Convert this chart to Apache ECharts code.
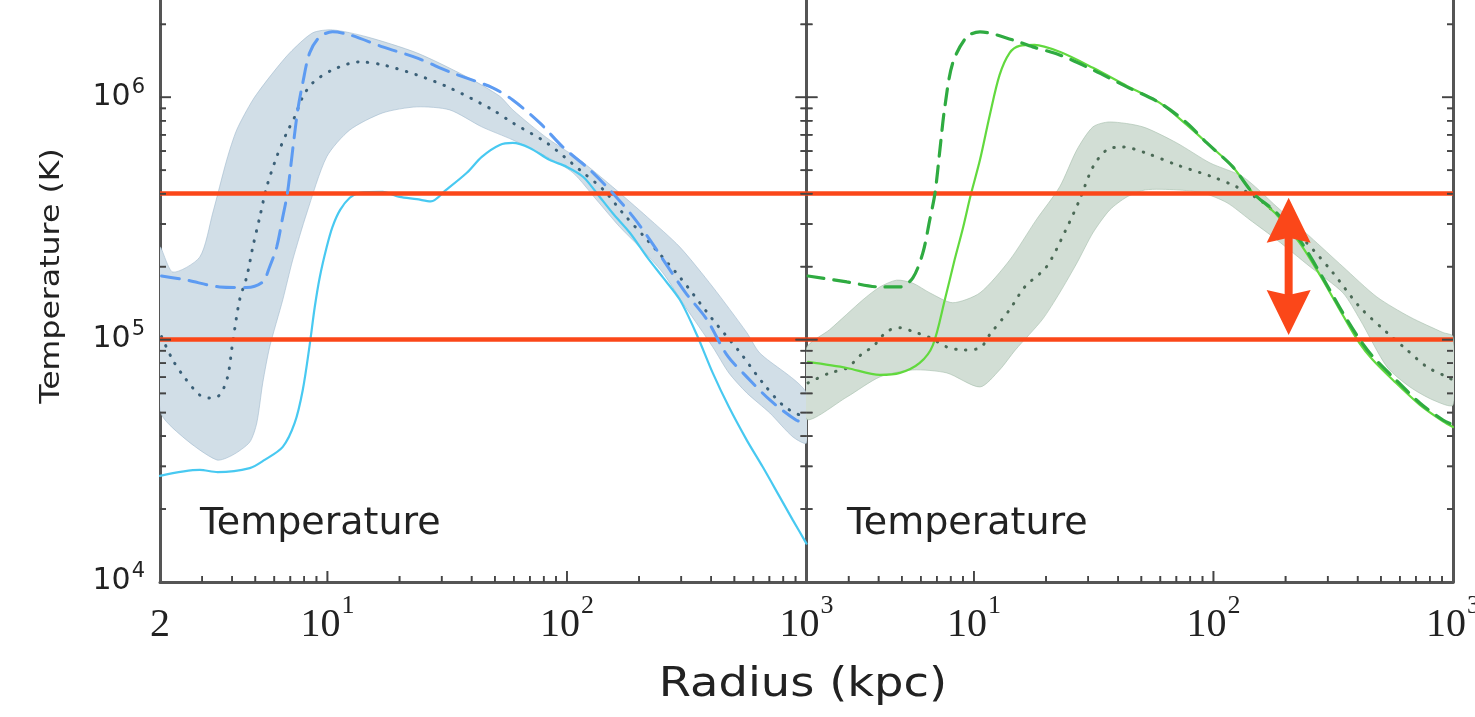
<!DOCTYPE html>
<html>
<head>
<meta charset="utf-8">
<title>Temperature profiles</title>
<script src="https://cdn.jsdelivr.net/npm/echarts@6/dist/echarts.min.js"></script>
<style>
  html, body { margin: 0; padding: 0; background: #ffffff; }
  #chart { width: 1475px; height: 717px; }
</style>
</head>
<body>
<div id="chart"></div>
<script>
// ---- axis ranges (radius in kpc, temperature in K) ----
const rMin = 2, rMax = 1000;
const tMin = 1e4, tMax = 2.52e6;

// ---- tick positions ----
const xMajorTicks = [10, 100];
const xMinorTicks = [3, 4, 5, 6, 7, 8, 9, 20, 30, 40, 50, 60, 70, 80, 90, 200, 300, 400, 500, 600, 700, 800, 900];
const yMajorTicks = [1e5, 1e6];
const yMinorTicks = [2e4, 3e4, 4e4, 5e4, 6e4, 7e4, 8e4, 9e4, 2e5, 3e5, 4e5, 5e5, 6e5, 7e5, 8e5, 9e5, 2e6];

// ---- reference temperatures (horizontal guide lines) ----
const guideTemps = [4e5, 1e5];
// double arrow between the guides: [radius, lower T, upper T]
const arrowSpec = [206, 1.045e5, 3.85e5];

// ---- left panel: [radius, temperature] ----
const leftSolid = [[2.0, 2.74e4], [2.93, 2.90e4], [3.48, 2.84e4], [4.74, 2.95e4], [5.47, 3.19e4], [6.51, 3.61e4],
  [7.30, 4.53e4], [7.89, 6.2e4], [8.43, 9.5e4], [8.85, 1.36e5], [9.29, 1.81e5], [9.93, 2.41e5], [10.5, 2.92e5],
  [11.3, 3.43e5], [12.4, 3.85e5], [13.6, 4.03e5], [17.0, 4.07e5], [20.0, 3.88e5], [23.6, 3.80e5], [27.0, 3.72e5],
  [31.3, 4.15e5], [38.2, 4.88e5], [44.1, 5.68e5], [52.4, 6.36e5], [59.4, 6.48e5], [69.9, 6.18e5], [84.5, 5.52e5],
  [100, 5.16e5], [117, 4.69e5], [133, 4.03e5], [155, 3.33e5], [183, 2.76e5], [216, 2.19e5], [251, 1.81e5],
  [296, 1.46e5], [348, 1.05e5], [406, 7.29e4], [474, 5.28e4], [563, 3.85e4], [657, 2.98e4], [774, 2.24e4],
  [877, 1.80e4], [1000, 1.44e4]];
const leftDashed = [[2.03, 1.83e5], [2.59, 1.76e5], [3.55, 1.65e5], [4.60, 1.64e5], [5.37, 1.73e5], [5.74, 2.0e5],
  [6.14, 2.41e5], [6.51, 3.21e5], [6.81, 4.03e5], [7.16, 6.07e5], [7.52, 8.87e5], [7.89, 1.147e6], [8.43, 1.525e6],
  [9.29, 1.776e6], [10.5, 1.862e6], [12.4, 1.81e6], [17.0, 1.614e6], [23.6, 1.454e6], [32.4, 1.273e6],
  [49.0, 1.094e6], [59.4, 9.75e5], [77, 7.84e5], [96, 6.24e5], [124.5, 5.02e5], [155, 4.03e5], [189, 3.21e5],
  [222, 2.58e5], [269, 1.94e5], [313, 1.56e5], [384, 1.21e5], [465, 8.65e4], [563, 7.02e4], [703, 5.64e4],
  [904, 4.66e4], [1000, 4.53e4]];
const leftMedian = [[2.03, 1.03e5], [2.26, 8.25e4], [2.54, 6.95e4], [2.93, 5.91e4], [3.23, 5.74e4], [3.55, 5.91e4],
  [3.83, 7.02e4], [4.02, 9.69e4], [4.30, 1.46e5], [4.60, 1.81e5], [4.88, 2.41e5], [5.22, 3.21e5], [5.58, 4.27e5],
  [6.14, 5.68e5], [6.76, 7.13e5], [7.30, 8.30e5], [7.89, 1.004e6], [8.68, 1.147e6], [10.5, 1.297e6], [13.6, 1.40e6],
  [17.0, 1.361e6], [23.6, 1.237e6], [32.4, 1.094e6], [49, 8.87e5], [59.4, 7.84e5], [82.4, 6.48e5], [113, 5.02e5],
  [142, 4.15e5], [171, 3.33e5], [216, 2.58e5], [296, 1.81e5], [406, 1.21e5], [530, 8.81e4], [657, 6.63e4],
  [812, 5.28e4], [1000, 4.75e4]];
const leftBandHigh = [[2.0, 2.4e5], [2.26, 1.90e5], [2.93, 2.19e5], [3.32, 3.33e5], [3.80, 5.52e5], [4.18, 7.33e5],
  [4.88, 9.75e5], [5.74, 1.214e6], [6.96, 1.525e6], [8.68, 1.844e6], [10.5, 1.897e6], [14.6, 1.776e6],
  [23.6, 1.525e6], [38.2, 1.214e6], [52.4, 1.01e6], [59.4, 8.87e5], [82.4, 6.80e5], [113, 5.52e5], [155, 4.27e5],
  [216, 3.21e5], [296, 2.41e5], [406, 1.65e5], [563, 1.07e5], [638, 8.81e4], [1000, 6.03e4]];
const leftBandLow = [[2.0, 5.1e4], [2.49, 3.97e4], [3.45, 3.19e4], [4.02, 3.34e4], [4.74, 3.78e4], [5.07, 4.53e4],
  [5.37, 6.63e4], [5.74, 9.33e4], [6.51, 1.46e5], [7.16, 2.13e5], [8.20, 3.33e5], [9.93, 5.68e5], [12.4, 7.33e5],
  [17.0, 8.62e5], [23.6, 9.13e5], [32.4, 8.87e5], [44.1, 7.55e5], [59.4, 6.67e5], [82.4, 5.68e5], [106, 4.88e5],
  [133, 3.77e5], [166, 2.92e5], [201, 2.41e5], [251, 1.89e5], [313, 1.36e5], [406, 9.33e4], [474, 7.29e4],
  [563, 6.03e4], [703, 4.98e4], [877, 3.97e4], [1000, 3.75e4]];

// ---- right panel: [radius, temperature] ----
const rightSolid = [[2.03, 8.09e4], [2.95, 7.64e4], [4.05, 7.15e4], [4.91, 7.29e4], [5.94, 8.02e4], [6.74, 9.5e4],
  [7.56, 1.46e5], [8.30, 2.13e5], [9.0, 2.89e5], [9.7, 3.96e5], [10.6, 5.52e5], [11.65, 8.46e5], [12.8, 1.237e6],
  [14.1, 1.525e6], [15.5, 1.63e6], [17.9, 1.646e6], [22.8, 1.54e6], [31.4, 1.323e6], [43.5, 1.114e6],
  [59.7, 9.48e5], [77.4, 7.69e5], [93.9, 6.48e5], [120.5, 5.16e5], [146, 4.03e5], [184, 3.27e5], [229, 2.51e5],
  [278, 1.85e5], [347, 1.26e5], [409, 9.6e4], [460, 8.3e4], [561, 6.82e4], [727, 5.38e4], [908, 4.6e4],
  [1000, 4.36e4]];
const rightDashed = [[2.03, 1.83e5], [2.95, 1.73e5], [4.05, 1.65e5], [4.91, 1.65e5], [5.56, 1.80e5], [6.12, 2.28e5],
  [6.54, 3.12e5], [6.88, 4.03e5], [7.21, 6.07e5], [7.56, 9.13e5], [8.16, 1.387e6], [9.34, 1.776e6], [10.6, 1.862e6],
  [14.5, 1.726e6], [17.6, 1.614e6], [22.8, 1.496e6], [31.4, 1.297e6], [43.5, 1.104e6], [59.7, 9.48e5],
  [77.4, 7.84e5], [93.9, 6.48e5], [120.5, 5.16e5], [146, 4.03e5], [184, 3.33e5], [229, 2.58e5], [278, 1.89e5],
  [347, 1.29e5], [409, 9.97e4], [460, 8.57e4], [561, 7.02e4], [727, 5.48e4], [908, 4.66e4], [1000, 4.45e4]];
const rightMedian = [[2.03, 6.63e4], [2.50, 7.29e4], [2.95, 7.64e4], [3.44, 8.81e4], [3.78, 9.33e4], [4.33, 1.08e5],
  [4.91, 1.12e5], [5.56, 1.08e5], [6.54, 1.02e5], [7.70, 9.33e4], [9.0, 9.07e4], [10.6, 9.24e4], [11.65, 1.05e5],
  [14.1, 1.33e5], [16.3, 1.65e5], [20.1, 2.0e5], [24.2, 2.84e5], [27.6, 3.77e5], [31.4, 5.16e5], [35.9, 6.07e5],
  [41.9, 6.24e5], [52.0, 5.90e5], [70.3, 5.26e5], [99.4, 4.69e5], [125, 4.27e5], [156, 3.77e5], [189, 3.21e5],
  [245, 2.51e5], [315, 1.89e5], [409, 1.36e5], [530, 1.07e5], [642, 9.07e4], [778, 7.72e4], [943, 7.02e4],
  [1000, 6.82e4]];
const rightBandHigh = [[2.0, 9.2e4], [2.50, 1.10e5], [3.44, 1.46e5], [4.05, 1.65e5], [4.76, 1.76e5], [5.56, 1.71e5],
  [6.54, 1.56e5], [8.16, 1.42e5], [10.6, 1.56e5], [14.1, 2.13e5], [18.2, 3.12e5], [22.8, 4.27e5], [26.9, 6.07e5],
  [31.4, 7.55e5], [36.9, 7.91e5], [50.7, 7.55e5], [70.3, 6.48e5], [96.7, 5.36e5], [133, 4.69e5], [184, 3.53e5],
  [253, 2.66e5], [347, 2.0e5], [481, 1.50e5], [661, 1.24e5], [908, 1.07e5], [1000, 1.03e5]];
const rightBandLow = [[2.0, 4.7e4], [2.95, 5.80e4], [4.05, 7.02e4], [5.56, 7.50e4], [7.70, 7.29e4], [10.6, 6.38e4],
  [12.8, 7.50e4], [14.9, 9.07e4], [19.3, 1.21e5], [22.8, 1.56e5], [26.9, 2.07e5], [31.4, 2.76e5], [36.9, 3.43e5],
  [43.5, 3.88e5], [52.0, 4.15e5], [70.3, 4.15e5], [90.3, 4.03e5], [114, 3.67e5], [142, 3.12e5], [184, 2.58e5],
  [253, 2.0e5], [347, 1.56e5], [409, 1.21e5], [530, 7.72e4], [661, 6.38e4], [824, 5.64e4], [1000, 5.38e4]];

// ---- colours ----
const RED = '#fb4719';
const AXIS = '#555555';
const TEXT = '#222222';

const chart = echarts.init(document.getElementById('chart'), null, { renderer: 'canvas' });

function isPow10(v) {
  const e = Math.log10(v);
  return Math.abs(e - Math.round(e)) < 1e-6;
}

// base digits and superscript share the same padded box height, so the
// superscript sits raised regardless of token alignment
const xRich = {
  b: { fontFamily: 'Liberation Serif', fontSize: 40, color: TEXT, lineHeight: 40, padding: [12, 0, 0, 0] },
  s: { fontFamily: 'Liberation Serif', fontSize: 26, color: TEXT, lineHeight: 26, padding: [0, 0, 26, 1] }
};
const yRich = {
  b: { fontFamily: 'DejaVu Sans', fontSize: 30, color: TEXT, lineHeight: 30, padding: [5, 0, 6, 0] },
  s: { fontFamily: 'DejaVu Sans', fontSize: 21, color: TEXT, lineHeight: 21, padding: [0, 0, 20, 1] }
};

function xAxisDef(gridIndex, showMin) {
  return {
    gridIndex, type: 'log', logBase: 10, min: rMin, max: rMax,
    axisLine: { show: true, onZero: false, lineStyle: { color: AXIS, width: 3 } },
    axisTick: { show: false },
    splitLine: { show: false },
    minorTick: { show: false },
    axisLabel: {
      margin: 17, showMinLabel: showMin, showMaxLabel: true, hideOverlap: false,
      formatter: v => isPow10(v) ? '{b|10}{s|' + Math.round(Math.log10(v)) + '}' : (showMin ? '{b|' + Math.round(v) + '}' : ''),
      rich: xRich
    }
  };
}
function yAxisDef(gridIndex, position, labels) {
  return {
    gridIndex, type: 'log', logBase: 10, min: tMin, max: tMax, position,
    axisLine: { show: true, onZero: false, lineStyle: { color: AXIS, width: 3 } },
    axisTick: { show: false },
    splitLine: { show: false },
    minorTick: { show: false },
    axisLabel: labels ? {
      margin: 15, showMaxLabel: false, hideOverlap: false,
      formatter: v => isPow10(v) ? '{b|10}{s|' + Math.round(Math.log10(v)) + '}' : '',
      rich: yRich
    } : { show: false }
  };
}

// ticks: [x, y, direction(0 up, 1 right, 2 left), length]
function tickData() {
  const d = [];
  xMajorTicks.forEach(v => d.push([v, tMin, 0, 11]));
  xMinorTicks.forEach(v => d.push([v, tMin, 0, 6]));
  yMajorTicks.forEach(v => { d.push([rMin, v, 1, 11]); d.push([rMax, v, 2, 11]); });
  yMinorTicks.forEach(v => { d.push([rMin, v, 1, 6]); d.push([rMax, v, 2, 6]); });
  return d;
}
function tickSeries(xi, yi) {
  return {
    type: 'custom', xAxisIndex: xi, yAxisIndex: yi, clip: false, silent: true, z: 6,
    dimensions: ['x', 'y', 'dir', 'len'], encode: { x: 0, y: 1 },
    data: tickData(),
    renderItem: (params, api) => {
      const p = api.coord([api.value(0), api.value(1)]);
      const dir = api.value(2), len = api.value(3);
      let x2 = p[0], y2 = p[1];
      if (dir === 0) y2 -= len; else if (dir === 1) x2 += len; else x2 -= len;
      return { type: 'line', shape: { x1: p[0], y1: p[1], x2, y2 }, style: { stroke: '#444', lineWidth: 1.6 } };
    }
  };
}

function bandSeries(xi, yi, hi, lo, fill, edge) {
  return {
    type: 'custom', xAxisIndex: xi, yAxisIndex: yi, clip: true, silent: true, z: 1,
    data: [hi[0]],
    renderItem: (params, api) => {
      const pts = hi.map(p => api.coord(p)).concat(lo.slice().reverse().map(p => api.coord(p)));
      return { type: 'polygon', shape: { points: pts, smooth: 0.25 }, style: { fill, stroke: edge, lineWidth: 1 } };
    }
  };
}

function lineSeries(xi, yi, data, color, width, dash, z) {
  return {
    type: 'line', xAxisIndex: xi, yAxisIndex: yi, data, showSymbol: false, symbol: 'none',
    smooth: 0.3, silent: true, z,
    lineStyle: { color, width, type: dash || 'solid', cap: 'round' }
  };
}

function guideSeries(xi, yi) {
  return {
    type: 'line', xAxisIndex: xi, yAxisIndex: yi, data: [], silent: true, z: 8,
    markLine: {
      silent: true, symbol: 'none', label: { show: false }, animation: false,
      lineStyle: { color: RED, width: 4.5, type: 'solid' },
      emphasis: { disabled: true },
      data: guideTemps.map(t => ({ yAxis: t }))
    }
  };
}

const arrowSeries = {
  type: 'custom', xAxisIndex: 1, yAxisIndex: 2, clip: false, silent: true, z: 9,
  dimensions: ['r', 'lo', 'hi'], encode: { x: 0, y: [1, 2] },
  data: [arrowSpec],
  renderItem: (params, api) => {
    const top = api.coord([api.value(0), api.value(2)]);
    const bot = api.coord([api.value(0), api.value(1)]);
    const x = top[0], headL = 45, headW = 22, notch = 5;
    return {
      type: 'group',
      children: [
        { type: 'line', shape: { x1: x, y1: top[1] + headL - notch - 2, x2: x, y2: bot[1] - headL + notch + 2 },
          style: { stroke: RED, lineWidth: 8 } },
        { type: 'polygon', shape: { points: [[x, top[1]], [x + headW, top[1] + headL], [x, top[1] + headL - notch], [x - headW, top[1] + headL]] },
          style: { fill: RED } },
        { type: 'polygon', shape: { points: [[x, bot[1]], [x + headW, bot[1] - headL], [x, bot[1] - headL + notch], [x - headW, bot[1] - headL]] },
          style: { fill: RED } }
      ]
    };
  }
};

const DOTS = [0.5, 9.5];

const option = {
  animation: false,
  backgroundColor: '#ffffff',
  grid: [
    { left: 160, top: 0, width: 646.5, height: 582, containLabel: false, outerBoundsMode: 'none' },
    { left: 806.5, top: 0, width: 646.5, height: 582, containLabel: false, outerBoundsMode: 'none' }
  ],
  xAxis: [xAxisDef(0, true), xAxisDef(1, false)],
  yAxis: [yAxisDef(0, 'left', true), yAxisDef(0, 'right', false), yAxisDef(1, 'left', false), yAxisDef(1, 'right', false)],
  series: [
    bandSeries(0, 0, leftBandHigh, leftBandLow, 'rgb(209,222,231)', 'rgba(160,185,205,0.6)'),
    lineSeries(0, 0, leftMedian, '#3b6078', 3, DOTS, 3),
    lineSeries(0, 0, leftSolid, '#48c9f1', 2.2, null, 4),
    lineSeries(0, 0, leftDashed, '#5d9bf2', 3, [18, 10], 5),
    tickSeries(0, 0),
    tickSeries(0, 1),
    guideSeries(0, 0),

    bandSeries(1, 2, rightBandHigh, rightBandLow, 'rgb(210,222,213)', 'rgba(165,190,172,0.6)'),
    lineSeries(1, 2, rightMedian, '#4b6a56', 3, DOTS, 3),
    lineSeries(1, 2, rightSolid, '#62d93e', 2.2, null, 4),
    lineSeries(1, 2, rightDashed, '#2fab41', 3.2, [16, 10], 5),
    tickSeries(1, 2),
    tickSeries(1, 3),
    guideSeries(1, 2),
    arrowSeries
  ],
  graphic: [
    { type: 'text', x: 200, y: 524, z: 20, style: { text: 'Temperature', font: '38px "DejaVu Sans"', fill: TEXT, verticalAlign: 'middle' } },
    { type: 'text', x: 847, y: 524, z: 20, style: { text: 'Temperature', font: '38px "DejaVu Sans"', fill: TEXT, verticalAlign: 'middle' } },
    { type: 'text', x: 803, y: 686, scaleX: 1.16, z: 20,
      style: { text: 'Radius (kpc)', font: '40px "DejaVu Sans"', fill: TEXT, align: 'center', verticalAlign: 'middle' } },
    { type: 'text', x: 52, y: 276, rotation: Math.PI / 2, scaleX: 1.17, z: 20,
      style: { text: 'Temperature (K)', font: '27px "DejaVu Sans"', fill: TEXT, align: 'center', verticalAlign: 'middle' } }
  ]
};

chart.setOption(option);
</script>
</body>
</html>
